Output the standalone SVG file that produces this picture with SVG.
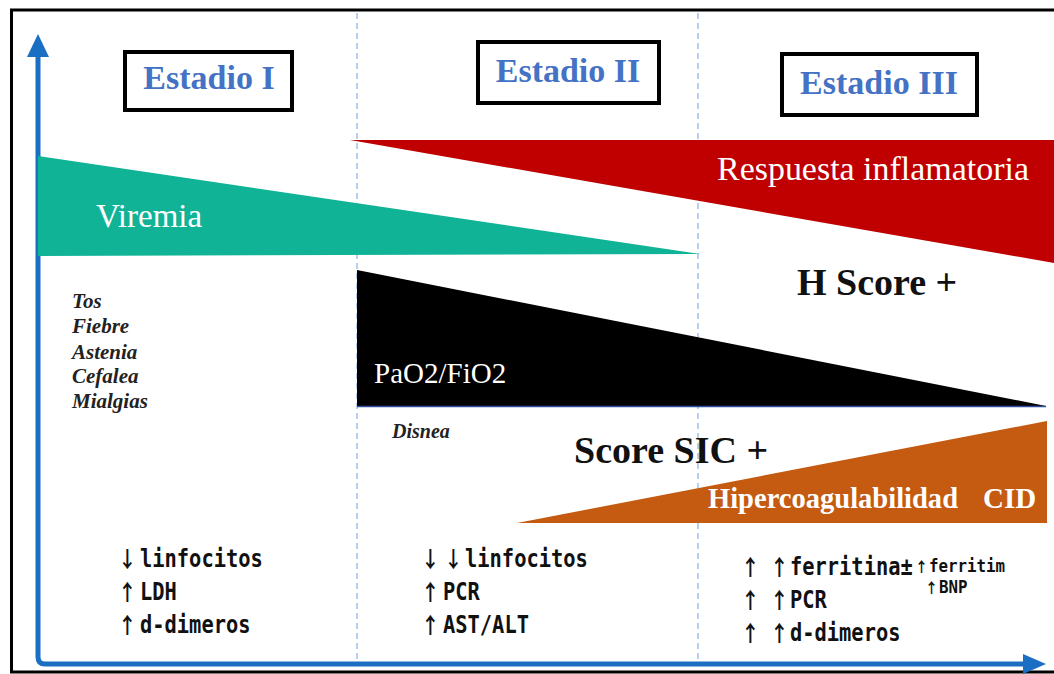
<svg xmlns="http://www.w3.org/2000/svg" width="1054" height="674" viewBox="0 0 1054 674">
<style>
.stage{fill:#fff;stroke:#000;stroke-width:4}
.stxt{font-family:"Liberation Serif",serif;font-weight:bold;font-size:34px;fill:#4472c4;text-anchor:middle}
.big{font-family:"Liberation Serif",serif;font-size:33px;fill:#fff}
.sym{font-family:"Liberation Serif",serif;font-style:italic;font-weight:bold;font-size:21px;fill:#222}
.lab{font-family:"DejaVu Sans Mono","Liberation Mono",monospace;font-weight:bold;font-size:24px;fill:#111}
.small{font-family:"DejaVu Sans Mono","Liberation Mono",monospace;font-weight:bold;font-size:17px;fill:#111}
.arr{font-family:"Noto Sans CJK KR","Noto Sans CJK SC",sans-serif;font-weight:bold;font-size:22px}
.score{font-family:"Liberation Serif",serif;font-weight:bold;font-size:38px;fill:#111}
.dash{stroke:#9dc0e6;stroke-width:1.5;stroke-dasharray:6 4;fill:none}
.axis{stroke:#1a6fc2;stroke-width:5;fill:none}
</style>
<rect width="1054" height="674" fill="#fff"/>
<rect x="11.5" y="10" width="1060" height="662" fill="none" stroke="#000" stroke-width="3"/>

<g id="connectors">
<line class="dash" x1="357" y1="13" x2="357" y2="661"/>
<line class="dash" x1="698" y1="13" x2="698" y2="661"/>
<path class="axis" d="M38,55 V657 Q38,664 45,664 H1026"/>
<polygon points="38,34 27,57 49,57" fill="#1a6fc2"/>
<polygon points="1046,664 1023,654 1023,674" fill="#1a6fc2"/>
</g>

<g id="viremia">
<polygon points="38,156 700,254 38,256" fill="#10b396"/>
<text class="big" x="96" y="227">Viremia</text>
</g>

<g id="respuesta">
<polygon points="350,140 1054,140 1054,263" fill="#c00000"/>
<text class="big" x="717" y="180" textLength="312" lengthAdjust="spacingAndGlyphs">Respuesta inflamatoria</text>
</g>

<g id="pao2">
<polygon points="357,270 1046,406 357,406" fill="#000"/>
<line x1="357" y1="406.5" x2="1046" y2="406.5" stroke="#2e4f9e" stroke-width="1.5"/>
<text class="big" x="374" y="383" fill="#eee" style="font-size:29px">PaO2/FiO2</text>
</g>

<g id="hipercoag">
<polygon points="517,523 1047,421 1047,523" fill="#c55a11"/>
<text class="big" x="708" y="508" style="font-weight:bold;font-size:29px" textLength="250" lengthAdjust="spacingAndGlyphs">Hipercoagulabilidad</text>
<text class="big" x="983" y="508" style="font-weight:bold;font-size:29px">CID</text>
</g>

<g id="estadio1">
<rect class="stage" x="125" y="52" width="167" height="58"/>
<text class="stxt" x="209" y="89">Estadio I</text>
</g>
<g id="estadio2">
<rect class="stage" x="478" y="42" width="181" height="61"/>
<text class="stxt" x="568" y="82">Estadio II</text>
</g>
<g id="estadio3">
<rect class="stage" x="782" y="54" width="195" height="61"/>
<text class="stxt" x="879" y="94">Estadio III</text>
</g>

<g id="hscore">
<text class="score" x="797" y="295">H Score +</text>
</g>
<g id="scoresic">
<text class="score" x="574" y="463">Score SIC +</text>
</g>

<g id="sintomas">
<text class="sym" x="72" y="308">Tos</text>
<text class="sym" x="72" y="333">Fiebre</text>
<text class="sym" x="72" y="359">Astenia</text>
<text class="sym" x="72" y="383">Cefalea</text>
<text class="sym" x="72" y="408">Mialgias</text>
</g>
<g id="disnea">
<text class="sym" x="392" y="438" style="font-size:20px">Disnea</text>
</g>

<g id="lab1">
<text class="lab" transform="translate(118,567) scale(0.85,1)"><tspan class="arr" x="0">↓</tspan><tspan x="25.9">linfocitos</tspan></text>
<text class="lab" transform="translate(118,600) scale(0.85,1)"><tspan class="arr" x="0">↑</tspan><tspan x="25.9">LDH</tspan></text>
<text class="lab" transform="translate(118,633) scale(0.85,1)"><tspan class="arr" x="0">↑</tspan><tspan x="25.9">d-dimeros</tspan></text>
</g>
<g id="lab2">
<text class="lab" transform="translate(421,567) scale(0.85,1)"><tspan class="arr" x="0">↓</tspan><tspan class="arr" x="27.1">↓</tspan><tspan x="51.8">linfocitos</tspan></text>
<text class="lab" transform="translate(421,600) scale(0.85,1)"><tspan class="arr" x="0">↑</tspan><tspan x="25.9">PCR</tspan></text>
<text class="lab" transform="translate(421,633) scale(0.85,1)"><tspan class="arr" x="0">↑</tspan><tspan x="25.9">AST/ALT</tspan></text>
</g>
<g id="lab3">
<text class="lab" transform="translate(741,575) scale(0.85,1)"><tspan class="arr" x="0">↑</tspan><tspan class="arr" x="34.1">↑</tspan><tspan x="57.6">ferritina±</tspan></text>
<text class="lab" transform="translate(741,608) scale(0.85,1)"><tspan class="arr" x="0">↑</tspan><tspan class="arr" x="34.1">↑</tspan><tspan x="57.6">PCR</tspan></text>
<text class="lab" transform="translate(741,641) scale(0.85,1)"><tspan class="arr" x="0">↑</tspan><tspan class="arr" x="34.1">↑</tspan><tspan x="57.6">d-dimeros</tspan></text>
<text class="small" transform="translate(915,572) scale(0.93,1)"><tspan class="arr" x="0" style="font-size:14px">↑</tspan><tspan x="15">ferritim</tspan></text>
<text class="small" transform="translate(925,593) scale(0.93,1)"><tspan class="arr" x="0" style="font-size:14px">↑</tspan><tspan x="15">BNP</tspan></text>
</g>
</svg>
